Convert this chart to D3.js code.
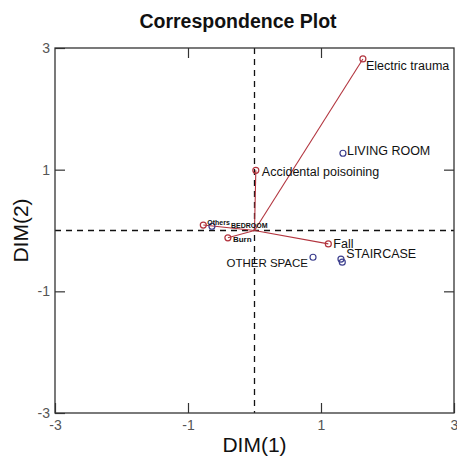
<!DOCTYPE html>
<html lang="en">
<head>
<meta charset="UTF-8">
<title>Correspondence Plot</title>
<script src="https://cdn.jsdelivr.net/npm/d3@7"></script>
<style>
    body { margin: 0; background: #fff; }
    svg text { font-family: "Liberation Sans", Arial, sans-serif; }
</style>
</head>
<body>
<div id="chart"></div>
<script>
// row points (accident type), drawn in red with lines to the origin
var rowNames = ["Electric trauma", "Accidental poisoining", "Fall", "Others", "Burn"];
var rowX = [1.63, 0.02, 1.11, -0.77, -0.40];
var rowY = [2.82, 0.99, -0.22, 0.09, -0.12];

// column points (place), drawn in blue
var colNames = ["LIVING ROOM", "STAIRCASE", "", "OTHER SPACE", "BEDROOM"];
var colX = [1.33, 1.32, 1.30, 0.88, -0.64];
var colY = [1.27, -0.52, -0.47, -0.44, 0.07];

var tickVals = [-3, -1, 1, 3];

// label placement (dx, dy, anchor, size) - layout only
var rowLabelPos = [[3, 11, "start", 12.5], [6, 6, "start", 12.5], [5, 4, "start", 12.5], [4, 0, "start", 7], [5, 4, "start", 8]];
var colLabelPos = [[4, 2, "start", 12.5], [4, -4, "start", 12.5], [0, 0, "start", 12], [-5, 10, "end", 11.5], [19, 2, "start", 7]];

var W = 457, H = 459;
var m = {left: 55, right: 3, top: 48, bottom: 46};

var svg = d3.select("#chart").append("svg")
    .attr("width", W)
    .attr("height", H);

var x = d3.scaleLinear().domain([-3, 3]).range([m.left, W - m.right]);
var y = d3.scaleLinear().domain([-3, 3]).range([H - m.bottom, m.top]);

var red = "#b2343e", blue = "#3d3f8e";
var fmt = function (d) { return String(d); };

// dashed reference lines
svg.append("line")
    .attr("x1", x(0)).attr("x2", x(0))
    .attr("y1", y(3)).attr("y2", y(-3))
    .attr("stroke", "#111").attr("stroke-width", 1.3)
    .attr("stroke-dasharray", "6,5");
svg.append("line")
    .attr("x1", x(-3)).attr("x2", x(3))
    .attr("y1", y(0)).attr("y2", y(0))
    .attr("stroke", "#111").attr("stroke-width", 1.3)
    .attr("stroke-dasharray", "6,5");

// axes with inward ticks
function styleAxis(g) {
    g.select(".domain").remove();
    g.selectAll(".tick line").attr("stroke", "#333").attr("stroke-width", 1.2);
    g.selectAll(".tick text").attr("fill", "#555").style("font-size", "14px")
        .style("font-family", "Liberation Sans, Arial, sans-serif");
}
svg.append("g").attr("transform", "translate(0," + y(-3) + ")")
    .call(d3.axisBottom(x).tickValues(tickVals).tickSize(-10).tickPadding(7).tickFormat(fmt))
    .call(styleAxis);
svg.append("g").attr("transform", "translate(0," + y(3) + ")")
    .call(d3.axisTop(x).tickValues([-1, 1]).tickSize(-10).tickFormat(""))
    .call(styleAxis);
svg.append("g").attr("transform", "translate(" + x(-3) + ",0)")
    .call(d3.axisLeft(y).tickValues(tickVals).tickSize(-10).tickPadding(5).tickFormat(fmt))
    .call(styleAxis);
svg.append("g").attr("transform", "translate(" + x(3) + ",0)")
    .call(d3.axisRight(y).tickValues([-1, 1]).tickSize(-10).tickFormat(""))
    .call(styleAxis);

// frame
svg.append("rect")
    .attr("x", x(-3)).attr("y", y(3))
    .attr("width", x(3) - x(-3)).attr("height", y(-3) - y(3))
    .attr("fill", "none").attr("stroke", "#333").attr("stroke-width", 1.3);

// red lines to origin
rowX.forEach(function (v, i) {
    svg.append("line")
        .attr("x1", x(0)).attr("y1", y(0))
        .attr("x2", x(v)).attr("y2", y(rowY[i]))
        .attr("stroke", red).attr("stroke-width", 1.1);
});

// markers
rowX.forEach(function (v, i) {
    svg.append("circle")
        .attr("cx", x(v)).attr("cy", y(rowY[i])).attr("r", 3)
        .attr("fill", "none").attr("stroke", red).attr("stroke-width", 1.2);
});
colX.forEach(function (v, i) {
    svg.append("circle")
        .attr("cx", x(v)).attr("cy", y(colY[i])).attr("r", 3)
        .attr("fill", "none").attr("stroke", blue).attr("stroke-width", 1.2);
});

// labels
function addLabel(name, px, py, pos) {
    if (!name) return;
    svg.append("text")
        .attr("x", px + pos[0]).attr("y", py + pos[1])
        .attr("text-anchor", pos[2])
        .style("font-size", pos[3] + "px")
        .style("font-weight", pos[3] < 10 ? "bold" : "normal")
        .attr("fill", "#111")
        .text(name);
}
rowNames.forEach(function (n, i) { addLabel(n, x(rowX[i]), y(rowY[i]), rowLabelPos[i]); });
colNames.forEach(function (n, i) { addLabel(n, x(colX[i]), y(colY[i]), colLabelPos[i]); });

// titles
svg.append("text")
    .attr("x", 238).attr("y", 28)
    .attr("text-anchor", "middle")
    .style("font-size", "19.5px").style("font-weight", "bold")
    .attr("fill", "#111")
    .text("Correspondence Plot");
svg.append("text")
    .attr("x", x(0)).attr("y", 452)
    .attr("text-anchor", "middle")
    .style("font-size", "21px")
    .attr("fill", "#111")
    .text("DIM(1)");
svg.append("text")
    .attr("transform", "translate(28," + y(0) + ") rotate(-90)")
    .attr("text-anchor", "middle")
    .style("font-size", "21px")
    .attr("fill", "#111")
    .text("DIM(2)");
</script>
</body>
</html>
